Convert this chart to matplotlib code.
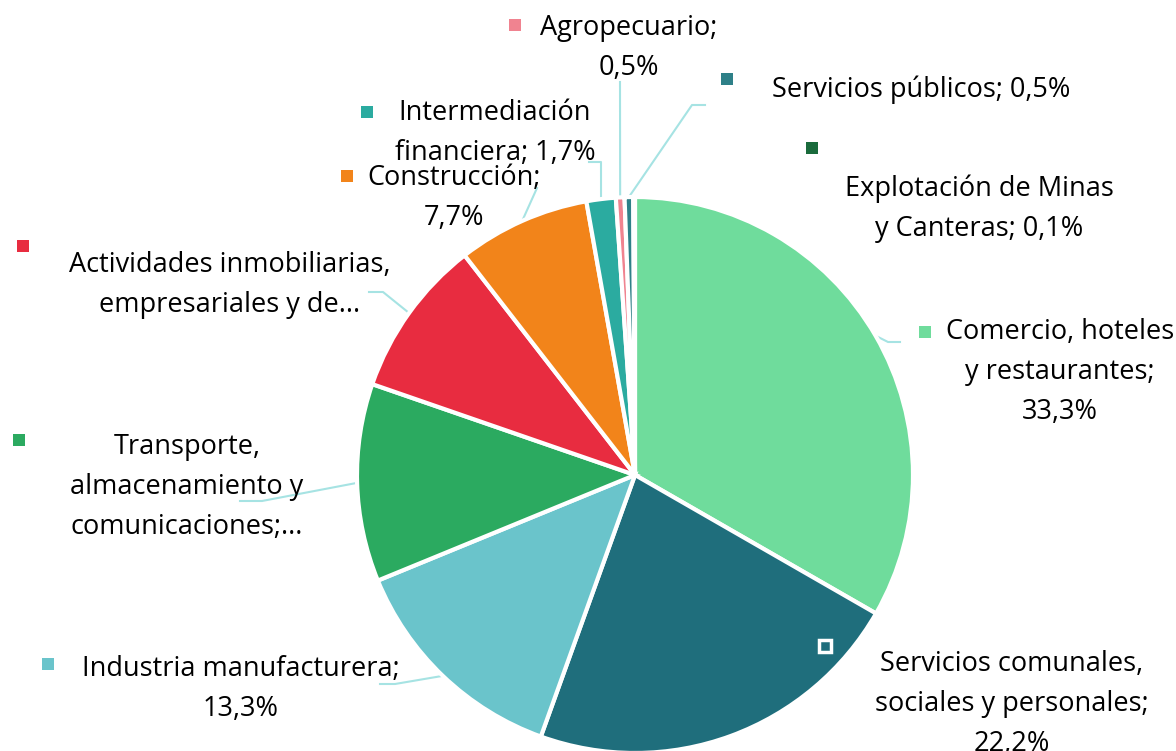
import numpy as np
import matplotlib.pyplot as plt

# data (clockwise from the top)
sectores = ["Comercio, hoteles y restaurantes", "Servicios comunales, sociales y personales",
            "Industria manufacturera", "Transporte, almacenamiento y comunicaciones",
            "Actividades inmobiliarias, empresariales y de alquiler", "Construcción",
            "Intermediación financiera", "Agropecuario", "Servicios públicos",
            "Explotación de Minas y Canteras"]
valores = [33.3, 22.2, 13.3, 11.5, 9.2, 7.7, 1.7, 0.5, 0.5, 0.1]
colores = ["#6FDC9C", "#1F6E7C", "#6AC4CB", "#2BAA60", "#E82C40",
           "#F2841A", "#2BABA0", "#F08390", "#2E8088", "#1A6B3C"]

# label text as shown in the chart ({v} -> value)
etiquetas = ["Comercio, hoteles\ny restaurantes;\n{v}",
             "Servicios comunales,\nsociales y personales;\n{v}",
             "Industria manufacturera;\n{v}",
             "Transporte,\nalmacenamiento y\ncomunicaciones;...",
             "Actividades inmobiliarias,\nempresariales y de...",
             "Construcción;\n{v}",
             "Intermediación\nfinanciera; {v}",
             "Agropecuario;\n{v}",
             "Servicios públicos; {v}",
             "Explotación de Minas\ny Canteras; {v}"]

W, H = 1176, 751
def py(y):
    return H - y

# layout in pixel coords (x, y from top)
txt_pos = [(1060, 372), (1012, 704), (241, 689), (187, 487), (230, 285),
           (454, 198), (495, 133), (629, 48), (921, 90), (979, 209)]
mk_pos = [(925, 332), (825, 646), (48, 664), (19, 440), (23, 246),
          (347, 176), (367, 112), (515, 25), (727, 79), (812, 148)]
leader = [[(900, 342), (888, 342)], None, [(380, 684), (395, 684)],
          [(240, 501), (262, 501)], [(369, 292), (383, 292)], [(537, 188)],
          [(589, 162), (601, 162)], [(620, 82)], [(705, 105), (692, 105)], None]

cx, cy, r = 635, 475, 278

plt.rcParams['font.family'] = ['Open Sans', 'DejaVu Sans']
fig = plt.figure(figsize=(W / 100, H / 100), dpi=100)
ax = fig.add_axes([0, 0, 1, 1])

ax.pie(valores, colors=colores, startangle=90, counterclock=False,
       center=(cx, py(cy)), radius=r,
       wedgeprops=dict(edgecolor="white", linewidth=3))
ax.set_xlim(0, W)
ax.set_ylim(0, H)
ax.set_aspect('equal')
ax.axis('off')

cum = np.cumsum([0] + valores)
tot = cum[-1]
for i, nombre in enumerate(sectores):
    v = ("%.1f" % valores[i]).replace(".", ",") + "%"
    tx, ty = txt_pos[i]
    ax.text(tx, py(ty), etiquetas[i].format(v=v), ha="center", va="center",
            fontsize=19.5, color="black", linespacing=1.55)
    mx, my = mk_pos[i]
    if i == 1:
        ax.plot(mx, py(my), marker="s", markersize=9, markerfacecolor=colores[i],
                markeredgecolor="white", markeredgewidth=2.5)
    else:
        ax.plot(mx, py(my), marker="s", markersize=8, color=colores[i], markeredgewidth=0)
    if leader[i] is not None:
        mid = (cum[i] + cum[i + 1]) / 2 / tot * 2 * np.pi
        ex = cx + r * np.sin(mid)
        ey = cy - r * np.cos(mid)
        pts = leader[i] + [(ex, ey)]
        ax.plot([p[0] for p in pts], [py(p[1]) for p in pts], color="#A6E3E3", lw=1.5,
                zorder=0.5)

fig.savefig("out.png", dpi=100)
